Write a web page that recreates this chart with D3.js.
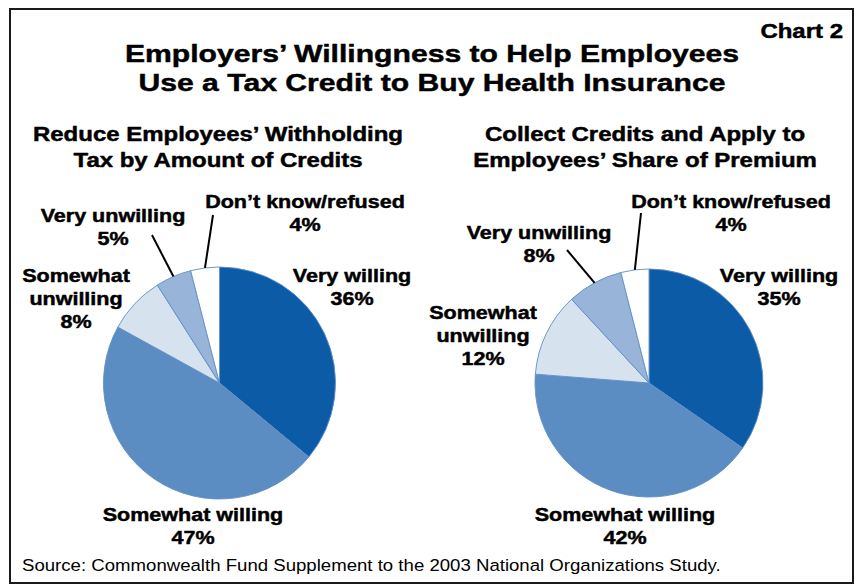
<!DOCTYPE html>
<html>
<head>
<meta charset="utf-8">
<script src="https://cdn.jsdelivr.net/npm/d3@7"></script>
<style>
  html, body { margin: 0; padding: 0; background: #fff; }
  svg { display: block; }
  text { font-family: "Liberation Sans", Arial, Helvetica, sans-serif; fill: #000; }
  text.heavy { stroke: #000; stroke-width: 0.45px; stroke-linejoin: round; }
</style>
</head>
<body>
<svg id="chart" width="859" height="585"></svg>
<script>
// Response categories, in clockwise order starting from 12 o'clock
const categories = ["Very willing", "Somewhat willing", "Somewhat unwilling", "Very unwilling", "Don’t know/refused"];

// Percent of employers giving each response
const withholdingValues = [36, 47, 8, 5, 4];
const premiumValues = [35, 42, 12, 8, 4];

const sliceColors = ["#0b5ba6", "#5b8cc2", "#d7e2ef", "#98b4d9", "#ffffff"];

const titleLines = ["Employers’ Willingness to Help Employees", "Use a Tax Credit to Buy Health Insurance"];
const withholdingTitle = ["Reduce Employees’ Withholding", "Tax by Amount of Credits"];
const premiumTitle = ["Collect Credits and Apply to", "Employees’ Share of Premium"];
const chartNumber = "Chart 2";
const sourceNote = "Source: Commonwealth Fund Supplement to the 2003 National Organizations Study.";

const svg = d3.select("#chart");
const SX = 1.23; // horizontal stretch of the lettering

// Frame
svg.append("rect")
  .attr("x", 10).attr("y", 9).attr("width", 843).attr("height", 574)
  .attr("fill", "#fff").attr("stroke", "#1a1a1a").attr("stroke-width", 2);

// Multi-line, horizontally stretched text block
function textBlock(g, lines, x, y, size, lineH, weight, anchor, sx) {
  const t = g.append("g").attr("transform", `translate(${x},${y}) scale(${sx},1)`);
  lines.forEach((s, i) => {
    t.append("text")
      .attr("class", weight === "bold" ? "heavy" : null)
      .attr("x", 0).attr("y", i * lineH)
      .attr("text-anchor", anchor || "middle")
      .attr("font-size", size)
      .attr("font-weight", weight)
      .text(s);
  });
  return t;
}

textBlock(svg, titleLines, 432, 62, 24.5, 29.5, "bold", "middle", SX);
textBlock(svg, [chartNumber], 843, 38, 19.5, 0, "bold", "end", SX);
textBlock(svg, withholdingTitle, 218, 141, 19.5, 26.5, "bold", "middle", SX);
textBlock(svg, premiumTitle, 645, 141, 19.5, 26.5, "bold", "middle", SX);
textBlock(svg, [sourceNote], 22, 571, 16.5, 0, "normal", "start", 1.128);

// Label layout for each pie: anchor of the first line, how the name wraps, optional leader end
const withholdingLayout = [
  { x: 352, y: 282, wrap: ["Very willing"] },
  { x: 193, y: 521, wrap: ["Somewhat willing"] },
  { x: 76,  y: 282, wrap: ["Somewhat", "unwilling"] },
  { x: 113, y: 222, wrap: ["Very unwilling"], leader: [152, 235] },
  { x: 305, y: 208, wrap: ["Don’t know/refused"], leader: [213, 215] }
];
const premiumLayout = [
  { x: 779, y: 282, wrap: ["Very willing"] },
  { x: 625, y: 521, wrap: ["Somewhat willing"] },
  { x: 483, y: 319, wrap: ["Somewhat", "unwilling"] },
  { x: 539, y: 239, wrap: ["Very unwilling"], leader: [567, 250] },
  { x: 731, y: 208, wrap: ["Don’t know/refused"], leader: [641, 213] }
];

const pie = d3.pie().sort(null).value(d => d.value).startAngle(0).endAngle(2 * Math.PI);

function drawPie(values, cx, cy, r, layout) {
  const data = categories.map((c, i) => ({ category: c, value: values[i], color: sliceColors[i] }));
  const arcs = pie(data);
  const arc = d3.arc().innerRadius(0).outerRadius(r);
  const g = svg.append("g").attr("transform", `translate(${cx},${cy})`);

  g.selectAll("path.slice")
    .data(arcs)
    .join("path")
    .attr("class", "slice")
    .attr("d", arc)
    .attr("fill", d => d.data.color)
    .attr("stroke", "#5f8fc6")
    .attr("stroke-width", 0.9)
    .attr("stroke-linejoin", "round");

  arcs.forEach((a, i) => {
    const L = layout[i];
    if (L.leader) {
      const mid = (a.startAngle + a.endAngle) / 2;
      const px = cx + r * Math.sin(mid);
      const py = cy - r * Math.cos(mid);
      svg.append("line")
        .attr("x1", px).attr("y1", py)
        .attr("x2", L.leader[0]).attr("y2", L.leader[1])
        .attr("stroke", "#000").attr("stroke-width", 2);
    }
    textBlock(svg, L.wrap.concat([a.data.value + "%"]), L.x, L.y, 17.5, 23, "bold", "middle", SX);
  });
}

drawPie(withholdingValues, 219.5, 383, 116, withholdingLayout);
drawPie(premiumValues, 649, 383, 114, premiumLayout);
</script>
</body>
</html>
